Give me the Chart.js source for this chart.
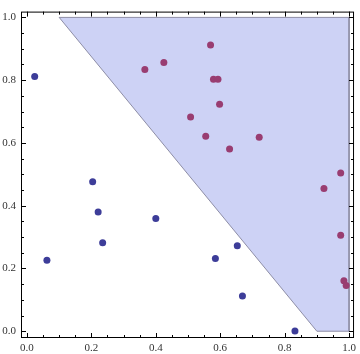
<!DOCTYPE html>
<html>
<head>
<meta charset="utf-8">
<script src="https://cdn.jsdelivr.net/npm/chart.js@4"></script>
<style>
  body { margin: 0; background: #fff; }
</style>
</head>
<body>
<canvas id="scatterChart" width="360" height="354"></canvas>
<script>
// class A (blue) points
var blueX = [0.024, 0.204, 0.221, 0.235, 0.062, 0.400, 0.653, 0.585, 0.669, 0.832];
var blueY = [0.812, 0.476, 0.380, 0.282, 0.226, 0.359, 0.272, 0.232, 0.112, 0.001];
// class B (purple) points
var redX = [0.366, 0.425, 0.570, 0.579, 0.593, 0.598, 0.508, 0.555, 0.721, 0.629, 0.974, 0.922, 0.974, 0.984, 0.991];
var redY = [0.834, 0.856, 0.912, 0.803, 0.803, 0.723, 0.683, 0.621, 0.618, 0.581, 0.504, 0.455, 0.306, 0.161, 0.146];
// shaded decision region
var regionX = [0.1, 1.0, 1.0, 0.9, 0.1];
var regionY = [1.0, 1.0, 0.0, 0.0, 1.0];
// ticks
var majorTicks = [0, 0.2, 0.4, 0.6, 0.8, 1.0];
var minorTicks = [0, 0.05, 0.1, 0.15, 0.2, 0.25, 0.3, 0.35, 0.4, 0.45, 0.5,
                  0.55, 0.6, 0.65, 0.7, 0.75, 0.8, 0.85, 0.9, 0.95, 1.0];

function toPoints(xs, ys) {
  return xs.map(function (x, i) { return { x: x, y: ys[i] }; });
}

var frameTicks = {
  id: 'frameTicks',
  afterDatasetsDraw: function (chart) {
    var ctx = chart.ctx, a = chart.chartArea;
    var xs = chart.scales.x, ys = chart.scales.y;
    ctx.save();
    ctx.strokeStyle = '#000';
    ctx.lineWidth = 1;
    ctx.beginPath();
    minorTicks.forEach(function (v, i) {
      var len = i % 4 === 0 ? 5 : 3;
      var px = Math.round(xs.getPixelForValue(v)) + 0.5;
      ctx.moveTo(px, a.bottom); ctx.lineTo(px, a.bottom - len);
      ctx.moveTo(px, a.top); ctx.lineTo(px, a.top + len);
      var py = Math.round(ys.getPixelForValue(v)) + 0.5;
      ctx.moveTo(a.left, py); ctx.lineTo(a.left + len, py);
      ctx.moveTo(a.right, py); ctx.lineTo(a.right - len, py);
    });
    ctx.stroke();
    ctx.strokeRect(a.left + 0.5, a.top + 0.5, a.right - a.left - 1, a.bottom - a.top - 1);
    ctx.restore();
  }
};

var tickFont = { family: 'Liberation Serif', size: 11 };

var contexto = document.getElementById('scatterChart');
var grafico = new Chart(contexto, {
  type: 'scatter',
  data: {
    datasets: [{
      data: toPoints(blueX, blueY),
      backgroundColor: '#3d3d99',
      pointRadius: 3.5,
      pointBorderWidth: 0,
      order: 0
    }, {
      data: toPoints(redX, redY),
      backgroundColor: '#993d71',
      pointRadius: 3.5,
      pointBorderWidth: 0,
      order: 0
    }, {
      data: toPoints(regionX, regionY),
      showLine: true,
      fill: 'shape',
      backgroundColor: '#cdd2f5',
      borderColor: '#8e8ea6',
      borderWidth: 1,
      pointRadius: 0,
      tension: 0,
      order: 2
    }]
  },
  options: {
    responsive: false,
    animation: false,
    layout: { padding: { top: 1, right: 4, left: 0, bottom: 0 } },
    scales: {
      x: {
        type: 'linear',
        min: -0.0185,
        max: 1.0154,
        grid: { display: false, drawTicks: false },
        border: { display: false },
        afterBuildTicks: function (s) { s.ticks = majorTicks.map(function (v) { return { value: v }; }); },
        afterFit: function (s) { s.height = 16; },
        ticks: {
          font: tickFont, color: '#333', padding: 4, maxRotation: 0, autoSkip: false,
          callback: function (v) { return v.toFixed(1); }
        }
      },
      y: {
        type: 'linear',
        min: -0.0216,
        max: 1.0185,
        grid: { display: false, drawTicks: false },
        border: { display: false },
        afterBuildTicks: function (s) { s.ticks = majorTicks.map(function (v) { return { value: v }; }); },
        afterFit: function (s) { s.width = 21; },
        ticks: {
          font: tickFont, color: '#333', padding: 5, autoSkip: false,
          callback: function (v) { return v.toFixed(1); }
        }
      }
    },
    plugins: {
      legend: { display: false },
      tooltip: { enabled: false }
    }
  },
  plugins: [frameTicks]
});
</script>
</body>
</html>
